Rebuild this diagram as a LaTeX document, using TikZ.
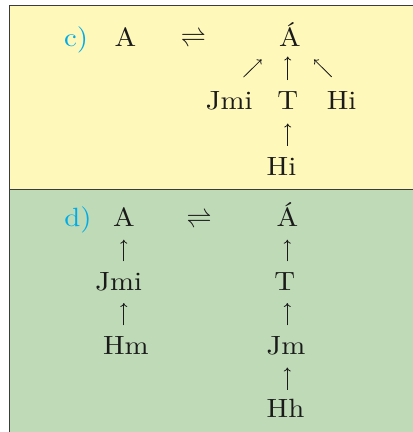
\documentclass[tikz,border=0pt]{standalone}
\usepackage{graphicx}
\usetikzlibrary{arrows.meta}
\definecolor{paleyellow}{RGB}{255,248,187}
\definecolor{palegreen}{RGB}{191,218,182}
\definecolor{labelblue}{RGB}{0,172,232}
\definecolor{framegray}{RGB}{60,60,60}
\definecolor{inkblack}{RGB}{26,26,26}
\newcommand\tx[1]{\scalebox{2.88}[2.64]{\fontsize{10}{12}\selectfont #1}}
\newcommand\eqsym{\scalebox{2.5}[2.64]{\fontsize{10}{12}\selectfont$\rightleftharpoons$}}
\tikzset{
  txt/.style={inner sep=0pt, anchor=base, text height=18pt, text depth=0pt,
    text=inkblack},
  lbl/.style={txt, text=labelblue},
  arr/.style={draw=inkblack, line width=0.8pt, -{To[length=4pt,width=7pt]},
    shorten <=10.5pt, shorten >=12.8pt},
  frame/.style={draw=framegray, line width=1.2pt}
}
\begin{document}
\begin{tikzpicture}[x=1pt,y=-1pt]
\useasboundingbox (0,0) rectangle (413,432);
% panels
\fill[paleyellow] (9.5,5.5) rectangle (413,189.5);
\fill[palegreen] (9.5,189.5) rectangle (413,432);
\draw[frame] (9.5,432) -- (9.5,5.5) -- (413,5.5);
\draw[frame] (9.5,189.5) -- (413,189.5);
% panel c
\node[lbl] (lc) at (76,46) {\tx{c)}};
\node[txt] (cA) at (125.5,46) {\tx{A}};
\node[txt] (ceq) at (193.4,46) {\eqsym};
\node[txt] (cAa) at (290,46) {\tx{Á}};
\node[txt] (cJmi) at (229.3,109.3) {\tx{Jmi}};
\node[txt] (cT) at (287.7,109.3) {\tx{T}};
\node[txt] (cHi) at (341.7,109.3) {\tx{Hi}};
\node[txt] (cHib) at (281.5,175) {\tx{Hi}};
\draw[arr, shorten <=20pt, shorten >=18.8pt] (cJmi.north) -- ([xshift=-15pt]cAa.south);
\draw[arr, shorten <=11pt, shorten >=10.3pt] (cT.north) -- (cT.north |- cAa.south);
\draw[arr, shorten <=20.2pt, shorten >=18.8pt] ([xshift=4.3pt]cHi.north) -- ([xshift=10.7pt]cAa.south);
\draw[arr, shorten <=11pt, shorten >=14pt] (cT.south |- cHib.north) -- (cT.south);
% panel d
\node[lbl] (ld) at (78,226.7) {\tx{d)}};
\node[txt] (dA) at (123.8,226.7) {\tx{A}};
\node[txt] (deq) at (199,226.7) {\eqsym};
\node[txt] (dAa) at (287.3,226.7) {\tx{Á}};
\node[txt] (dJmi) at (118.7,290) {\tx{Jmi}};
\node[txt] (dHm) at (125.8,354) {\tx{Hm}};
\node[txt] (dT) at (284.7,290) {\tx{T}};
\node[txt] (dJm) at (286,354) {\tx{Jm}};
\node[txt] (dHh) at (285.5,417.3) {\tx{Hh}};
\draw[arr] (dA.south |- dJmi.north) -- (dA.south);
\draw[arr] (dA.south |- dHm.north) -- (dA.south |- dJmi.south);
\draw[arr] (dAa.south |- dT.north) -- (dAa.south);
\draw[arr] (dAa.south |- dJm.north) -- (dAa.south |- dT.south);
\draw[arr, shorten <=9.3pt, shorten >=13.3pt] (dAa.south |- dHh.north) -- (dAa.south |- dJm.south);
\end{tikzpicture}
\end{document}
